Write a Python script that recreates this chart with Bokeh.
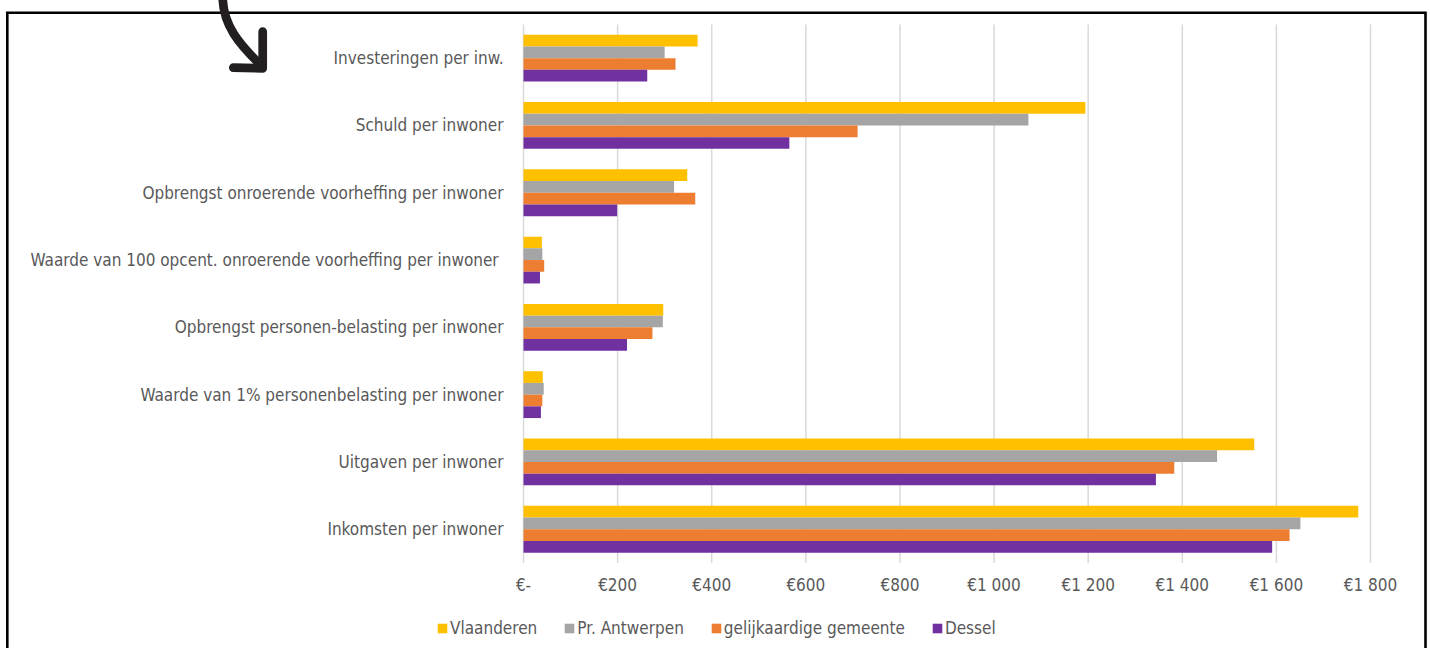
from urllib.parse import quote
from bokeh.plotting import figure
from bokeh.models import (ColumnDataSource, FixedTicker, Legend, LegendItem, Range1d)
from bokeh.transform import dodge
from bokeh.embed import file_html
from bokeh.resources import INLINE

categories = [
    "Investeringen per inw.",
    "Schuld per inwoner",
    "Opbrengst onroerende voorheffing per inwoner",
    "Waarde van 100 opcent. onroerende voorheffing per inwoner ",
    "Opbrengst personen-belasting per inwoner",
    "Waarde van 1% personenbelasting per inwoner",
    "Uitgaven per inwoner",
    "Inkomsten per inwoner",
]
series_names = ["Vlaanderen", "Pr. Antwerpen", "gelijkaardige gemeente", "Dessel"]
vlaanderen = [370, 1194, 348, 39, 297, 41, 1553, 1774]
antwerpen = [300, 1073, 320, 40, 296, 43, 1474, 1651]
gelijkaardig = [323, 710, 365, 44, 274, 40, 1383, 1628]
dessel = [263, 565, 199, 35, 220, 37, 1344, 1591]
tick_values = [0, 200, 400, 600, 800, 1000, 1200, 1400, 1600, 1800]
tick_labels = ["€-", "€200", "€400", "€600", "€800", "€1 000", "€1 200", "€1 400", "€1 600", "€1 800"]

colors = ["#FFC000", "#A5A5A5", "#ED7D31", "#7030A0"]
FONT = "'Liberation Sans Narrow', 'Arial Narrow', 'DejaVu Sans Condensed', sans-serif"
TXT = "#595959"
FS = "17px"

# layout (page pixels): value axis 0 at px 523, 1800 at px 1370; categories between px 24 and 562.4
W, H = 1430, 648
PX0, PX1 = 523.0, 1370.0
PY_TOP, PY_BOT = 24.0, 562.4
n = len(categories)
kx = (PX1 - PX0) / (tick_values[-1] - tick_values[0])
ky = (PY_BOT - PY_TOP) / n
x_start = -PX0 / kx
x_end = x_start + W / kx
y_top = (n - 0.5) + PY_TOP / ky
y_bot = -0.5 - (H - PY_BOT) / ky

ypos = [n - 1 - i for i in range(n)]
source = ColumnDataSource(dict(cat=categories, ypos=ypos, s0=vlaanderen, s1=antwerpen,
                               s2=gelijkaardig, s3=dessel))

p = figure(width=W, height=H, frame_width=W, frame_height=H,
           output_backend="svg", toolbar_location=None,
           x_range=Range1d(x_start, x_end), y_range=Range1d(y_bot, y_top),
           min_border=0, min_border_left=0, min_border_right=0,
           min_border_top=0, min_border_bottom=0)
p.outline_line_color = None
p.background_fill_color = None
p.border_fill_color = None
p.xgrid.visible = False
p.ygrid.visible = False

# vertical gridlines over the category band only
p.segment(x0=tick_values, x1=tick_values, y0=-0.5, y1=n - 0.5,
          line_color="#d9d9d9", line_width=1.5)

bh = 0.174
offsets = [1.5 * bh, 0.5 * bh, -0.5 * bh, -1.5 * bh]
renderers = []
for i, off in enumerate(offsets):
    r = p.hbar(y=dodge("ypos", off), right="s%d" % i, left=0, height=bh,
               source=source, fill_color=colors[i], line_color=None)
    renderers.append(r)

p.xaxis.ticker = FixedTicker(ticks=tick_values)
p.xaxis.major_label_overrides = {v: l for v, l in zip(tick_values, tick_labels)}
p.xaxis.fixed_location = -0.5
p.yaxis.ticker = FixedTicker(ticks=ypos)
p.yaxis.major_label_overrides = {y: c for y, c in zip(ypos, categories)}
p.yaxis.fixed_location = 0
for ax in (p.xaxis, p.yaxis):
    ax.axis_line_color = None
    ax.major_tick_line_color = None
    ax.minor_tick_line_color = None
    ax.major_tick_out = 0
    ax.major_tick_in = 0
    ax.major_label_text_font = FONT
    ax.major_label_text_font_size = FS
    ax.major_label_text_color = TXT
p.xaxis.major_label_standoff = 12
p.yaxis.major_label_standoff = 20

legend = Legend(items=[LegendItem(label=nm, renderers=[r]) for nm, r in zip(series_names, renderers)],
                orientation="horizontal", location=(436, 10),
                glyph_width=12, glyph_height=12, label_standoff=2, spacing=26,
                padding=0, margin=0, border_line_color=None, background_fill_alpha=0,
                label_text_font=FONT, label_text_font_size=FS, label_text_color=TXT)
p.add_layout(legend, "center")

# decorative page frame (open at the bottom) and hand-drawn arrow, as the page background
deco = (
    "<svg xmlns='http://www.w3.org/2000/svg' width='1430' height='648'>"
    "<rect width='1430' height='648' fill='white'/>"
    "<path d='M7.3 700 L7.3 12.7 L1425.5 12.7 L1425.5 700' fill='none' stroke='black' stroke-width='2.6'/>"
    "<path d='M222.7 -5 C222 25 240 45 261.7 66' fill='none' stroke='#231f20' stroke-width='8.7' stroke-linecap='round'/>"
    "<path d='M233.3 67.7 L262.7 68.3 L262.7 31.7' fill='none' stroke='#231f20' stroke-width='8.7' "
    "stroke-linecap='round' stroke-linejoin='round'/>"
    "</svg>"
)
p.styles = {
    "background-image": 'url("data:image/svg+xml;utf8,%s")' % quote(deco),
    "background-repeat": "no-repeat",
    "background-position": "0 0",
}

open("out.html", "w").write(file_html(p, INLINE))
